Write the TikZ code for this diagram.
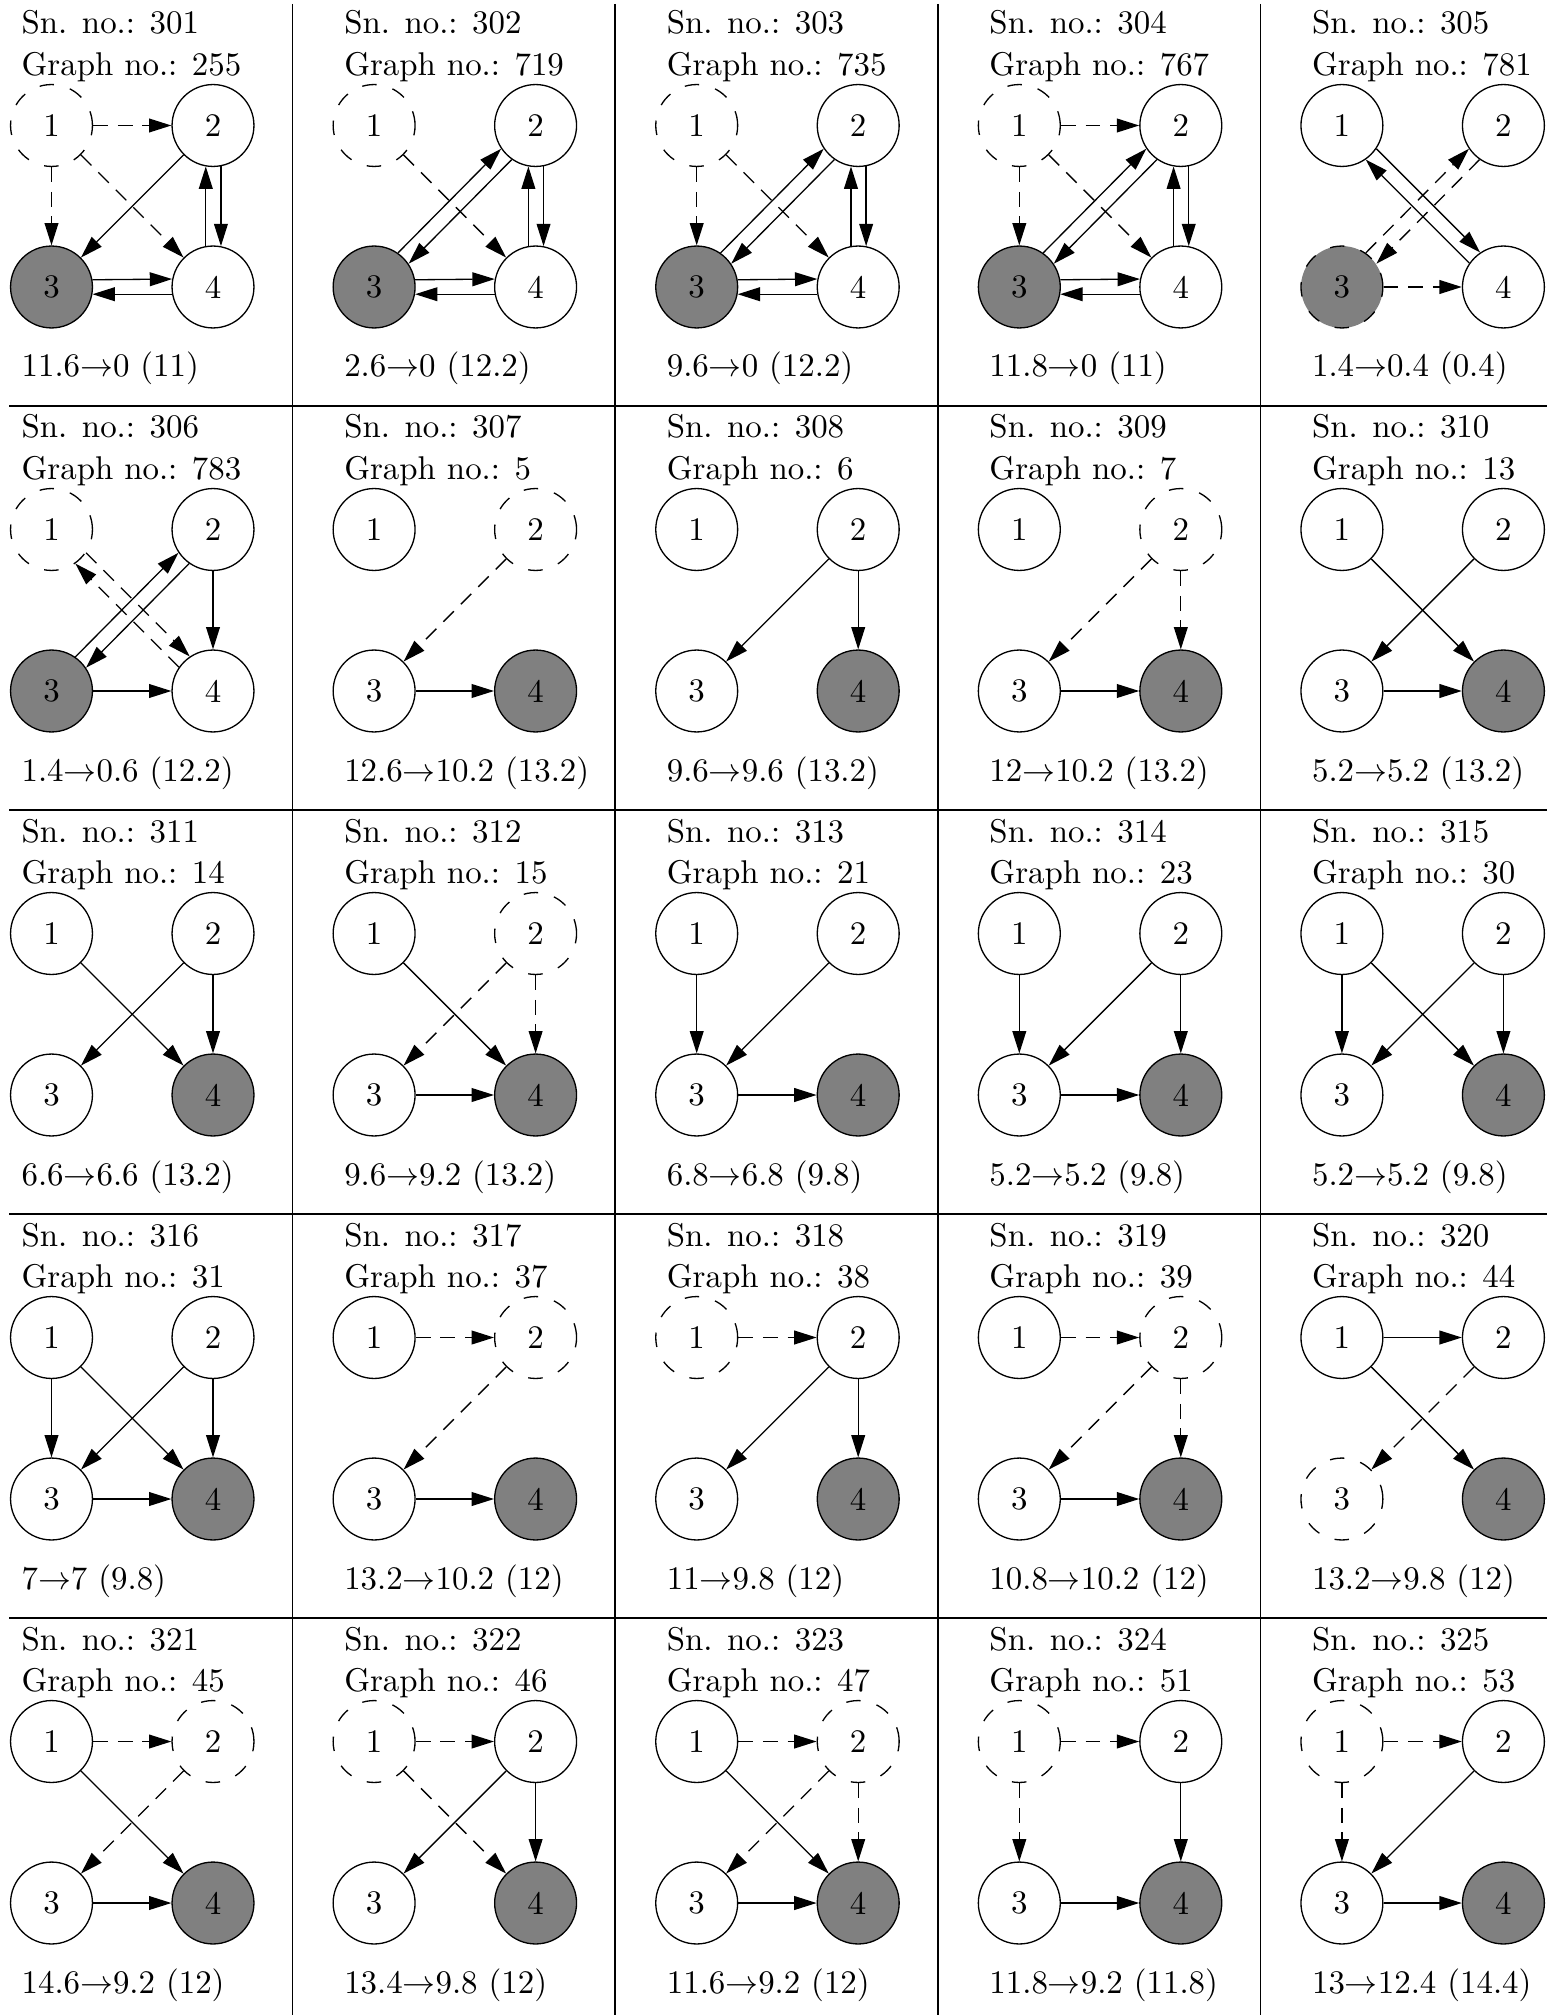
\documentclass[tikz,border=0pt]{standalone}
\usetikzlibrary{arrows.meta,calc}
\tikzset{
  lbl/.style={anchor=base west,inner sep=0pt,font=\fontsize{10}{12}\selectfont},
  vnode/.style={circle,draw,line width=0.4pt,minimum size=24.9pt,inner sep=0pt,fill=white},
  dnode/.style={vnode,dash pattern=on 4.4pt off 5pt},
  gnode/.style={vnode,fill=gray},
  gdnode/.style={dnode,fill=gray},
  arr/.style={line width=0.4pt,-{Triangle[length=6.8pt,width=4.2pt]}},
  darr/.style={arr,dash pattern=on 4.5pt off 3pt},
  rule/.style={line width=0.45pt}
}
\newcommand\mkpanel[9]{%
  \begin{scope}[shift={({-30+322.6*(#1-1)},{2+404*(#2-1)})}]
    \node[lbl] (p#3-sn) at (51,32) {Sn. no.: #3};
    \node[lbl] (p#3-gn) at (51,73.5) {Graph no.: #4};
    \node[lbl] (p#3-cap) at (51,375) {#5};
    \node[#6] (p#3-1) at (81.5,123.5) {1};
    \node[#7] (p#3-2) at (243,123.5) {2};
    \node[#8] (p#3-3) at (81.5,285) {3};
    \node[#9] (p#3-4) at (243,285) {4};
  \end{scope}}
\begin{document}
\begin{tikzpicture}[x=0.304pt,y=-0.304pt]
\useasboundingbox (0,0) rectangle (1547,2015);
% table rules
\foreach \c in {2,3,4,5} { \draw[rule] ({-30+322.6*(\c-1)},4) -- ({-30+322.6*(\c-1)},2015); }
\foreach \r in {1,2,3,4} { \draw[rule] (9,{2+404*\r}) -- (1547,{2+404*\r}); }
% panels
\mkpanel{1}{1}{301}{255}{11.6$\to$0 (11)}{dnode}{vnode}{gnode}{vnode}
\mkpanel{2}{1}{302}{719}{2.6$\to$0 (12.2)}{dnode}{vnode}{gnode}{vnode}
\mkpanel{3}{1}{303}{735}{9.6$\to$0 (12.2)}{dnode}{vnode}{gnode}{vnode}
\mkpanel{4}{1}{304}{767}{11.8$\to$0 (11)}{dnode}{vnode}{gnode}{vnode}
\mkpanel{5}{1}{305}{781}{1.4$\to$0.4 (0.4)}{vnode}{vnode}{gdnode}{vnode}
\mkpanel{1}{2}{306}{783}{1.4$\to$0.6 (12.2)}{dnode}{vnode}{gnode}{vnode}
\mkpanel{2}{2}{307}{5}{12.6$\to$10.2 (13.2)}{vnode}{dnode}{vnode}{gnode}
\mkpanel{3}{2}{308}{6}{9.6$\to$9.6 (13.2)}{vnode}{vnode}{vnode}{gnode}
\mkpanel{4}{2}{309}{7}{12$\to$10.2 (13.2)}{vnode}{dnode}{vnode}{gnode}
\mkpanel{5}{2}{310}{13}{5.2$\to$5.2 (13.2)}{vnode}{vnode}{vnode}{gnode}
\mkpanel{1}{3}{311}{14}{6.6$\to$6.6 (13.2)}{vnode}{vnode}{vnode}{gnode}
\mkpanel{2}{3}{312}{15}{9.6$\to$9.2 (13.2)}{vnode}{dnode}{vnode}{gnode}
\mkpanel{3}{3}{313}{21}{6.8$\to$6.8 (9.8)}{vnode}{vnode}{vnode}{gnode}
\mkpanel{4}{3}{314}{23}{5.2$\to$5.2 (9.8)}{vnode}{vnode}{vnode}{gnode}
\mkpanel{5}{3}{315}{30}{5.2$\to$5.2 (9.8)}{vnode}{vnode}{vnode}{gnode}
\mkpanel{1}{4}{316}{31}{7$\to$7 (9.8)}{vnode}{vnode}{vnode}{gnode}
\mkpanel{2}{4}{317}{37}{13.2$\to$10.2 (12)}{vnode}{dnode}{vnode}{gnode}
\mkpanel{3}{4}{318}{38}{11$\to$9.8 (12)}{dnode}{vnode}{vnode}{gnode}
\mkpanel{4}{4}{319}{39}{10.8$\to$10.2 (12)}{vnode}{dnode}{vnode}{gnode}
\mkpanel{5}{4}{320}{44}{13.2$\to$9.8 (12)}{vnode}{vnode}{dnode}{gnode}
\mkpanel{1}{5}{321}{45}{14.6$\to$9.2 (12)}{vnode}{dnode}{vnode}{gnode}
\mkpanel{2}{5}{322}{46}{13.4$\to$9.8 (12)}{dnode}{vnode}{vnode}{gnode}
\mkpanel{3}{5}{323}{47}{11.6$\to$9.2 (12)}{vnode}{dnode}{vnode}{gnode}
\mkpanel{4}{5}{324}{51}{11.8$\to$9.2 (11.8)}{dnode}{vnode}{vnode}{gnode}
\mkpanel{5}{5}{325}{53}{13$\to$12.4 (14.4)}{dnode}{vnode}{vnode}{gnode}
% ---- edges ----
% 301
\draw[darr] (p301-1) -- (p301-2);
\draw[darr] (p301-1) -- (p301-3);
\draw[darr] (p301-1) -- (p301-4);
\draw[arr] (p301-2) -- (p301-3);
\draw[arr] (p301-2.-79.5) -- (p301-4.79.5);
\draw[arr] (p301-4.100.5) -- (p301-2.-100.5);
\draw[arr] (p301-3.10.5) -- (p301-4.169.5);
\draw[arr] (p301-4.190.5) -- (p301-3.-10.5);
% 302
\draw[darr] (p302-1) -- (p302-4);
\draw[arr] (p302-3.55.5) -- (p302-2.214.5);
\draw[arr] (p302-2.235.5) -- (p302-3.34.5);
\draw[arr] (p302-2.-79.5) -- (p302-4.79.5);
\draw[arr] (p302-4.100.5) -- (p302-2.-100.5);
\draw[arr] (p302-3.10.5) -- (p302-4.169.5);
\draw[arr] (p302-4.190.5) -- (p302-3.-10.5);
% 303
\draw[darr] (p303-1) -- (p303-3);
\draw[darr] (p303-1) -- (p303-4);
\draw[arr] (p303-3.55.5) -- (p303-2.214.5);
\draw[arr] (p303-2.235.5) -- (p303-3.34.5);
\draw[arr] (p303-2.-79.5) -- (p303-4.79.5);
\draw[arr] (p303-4.100.5) -- (p303-2.-100.5);
\draw[arr] (p303-3.10.5) -- (p303-4.169.5);
\draw[arr] (p303-4.190.5) -- (p303-3.-10.5);
% 304
\draw[darr] (p304-1) -- (p304-2);
\draw[darr] (p304-1) -- (p304-3);
\draw[darr] (p304-1) -- (p304-4);
\draw[arr] (p304-3.55.5) -- (p304-2.214.5);
\draw[arr] (p304-2.235.5) -- (p304-3.34.5);
\draw[arr] (p304-2.-79.5) -- (p304-4.79.5);
\draw[arr] (p304-4.100.5) -- (p304-2.-100.5);
\draw[arr] (p304-3.10.5) -- (p304-4.169.5);
\draw[arr] (p304-4.190.5) -- (p304-3.-10.5);
% 305
\draw[arr] (p305-1.-34.5) -- (p305-4.124.5);
\draw[arr] (p305-4.145.5) -- (p305-1.-55.5);
\draw[darr] (p305-3.55.5) -- (p305-2.214.5);
\draw[darr] (p305-2.235.5) -- (p305-3.34.5);
\draw[darr] (p305-3) -- (p305-4);
% 306
\draw[darr] (p306-1.-34.5) -- (p306-4.124.5);
\draw[darr] (p306-4.145.5) -- (p306-1.-55.5);
\draw[arr] (p306-3.55.5) -- (p306-2.214.5);
\draw[arr] (p306-2.235.5) -- (p306-3.34.5);
\draw[arr] (p306-2) -- (p306-4);
\draw[arr] (p306-3) -- (p306-4);
% 307
\draw[darr] (p307-2) -- (p307-3);
\draw[arr] (p307-3) -- (p307-4);
% 308
\draw[arr] (p308-2) -- (p308-3);
\draw[arr] (p308-2) -- (p308-4);
% 309
\draw[darr] (p309-2) -- (p309-3);
\draw[darr] (p309-2) -- (p309-4);
\draw[arr] (p309-3) -- (p309-4);
% 310
\draw[arr] (p310-1) -- (p310-4);
\draw[arr] (p310-2) -- (p310-3);
\draw[arr] (p310-3) -- (p310-4);
% 311
\draw[arr] (p311-1) -- (p311-4);
\draw[arr] (p311-2) -- (p311-3);
\draw[arr] (p311-2) -- (p311-4);
% 312
\draw[arr] (p312-1) -- (p312-4);
\draw[darr] (p312-2) -- (p312-3);
\draw[darr] (p312-2) -- (p312-4);
\draw[arr] (p312-3) -- (p312-4);
% 313
\draw[arr] (p313-1) -- (p313-3);
\draw[arr] (p313-2) -- (p313-3);
\draw[arr] (p313-3) -- (p313-4);
% 314
\draw[arr] (p314-1) -- (p314-3);
\draw[arr] (p314-2) -- (p314-3);
\draw[arr] (p314-2) -- (p314-4);
\draw[arr] (p314-3) -- (p314-4);
% 315
\draw[arr] (p315-1) -- (p315-3);
\draw[arr] (p315-1) -- (p315-4);
\draw[arr] (p315-2) -- (p315-3);
\draw[arr] (p315-2) -- (p315-4);
% 316
\draw[arr] (p316-1) -- (p316-3);
\draw[arr] (p316-1) -- (p316-4);
\draw[arr] (p316-2) -- (p316-3);
\draw[arr] (p316-2) -- (p316-4);
\draw[arr] (p316-3) -- (p316-4);
% 317
\draw[darr] (p317-1) -- (p317-2);
\draw[darr] (p317-2) -- (p317-3);
\draw[arr] (p317-3) -- (p317-4);
% 318
\draw[darr] (p318-1) -- (p318-2);
\draw[arr] (p318-2) -- (p318-3);
\draw[arr] (p318-2) -- (p318-4);
% 319
\draw[darr] (p319-1) -- (p319-2);
\draw[darr] (p319-2) -- (p319-3);
\draw[darr] (p319-2) -- (p319-4);
\draw[arr] (p319-3) -- (p319-4);
% 320
\draw[arr] (p320-1) -- (p320-2);
\draw[arr] (p320-1) -- (p320-4);
\draw[darr] (p320-2) -- (p320-3);
% 321
\draw[darr] (p321-1) -- (p321-2);
\draw[arr] (p321-1) -- (p321-4);
\draw[darr] (p321-2) -- (p321-3);
\draw[arr] (p321-3) -- (p321-4);
% 322
\draw[darr] (p322-1) -- (p322-2);
\draw[darr] (p322-1) -- (p322-4);
\draw[arr] (p322-2) -- (p322-3);
\draw[arr] (p322-2) -- (p322-4);
% 323
\draw[darr] (p323-1) -- (p323-2);
\draw[arr] (p323-1) -- (p323-4);
\draw[darr] (p323-2) -- (p323-3);
\draw[darr] (p323-2) -- (p323-4);
\draw[arr] (p323-3) -- (p323-4);
% 324
\draw[darr] (p324-1) -- (p324-2);
\draw[darr] (p324-1) -- (p324-3);
\draw[arr] (p324-2) -- (p324-4);
\draw[arr] (p324-3) -- (p324-4);
% 325
\draw[darr] (p325-1) -- (p325-2);
\draw[darr] (p325-1) -- (p325-3);
\draw[arr] (p325-2) -- (p325-3);
\draw[arr] (p325-3) -- (p325-4);
\end{tikzpicture}
\end{document}
